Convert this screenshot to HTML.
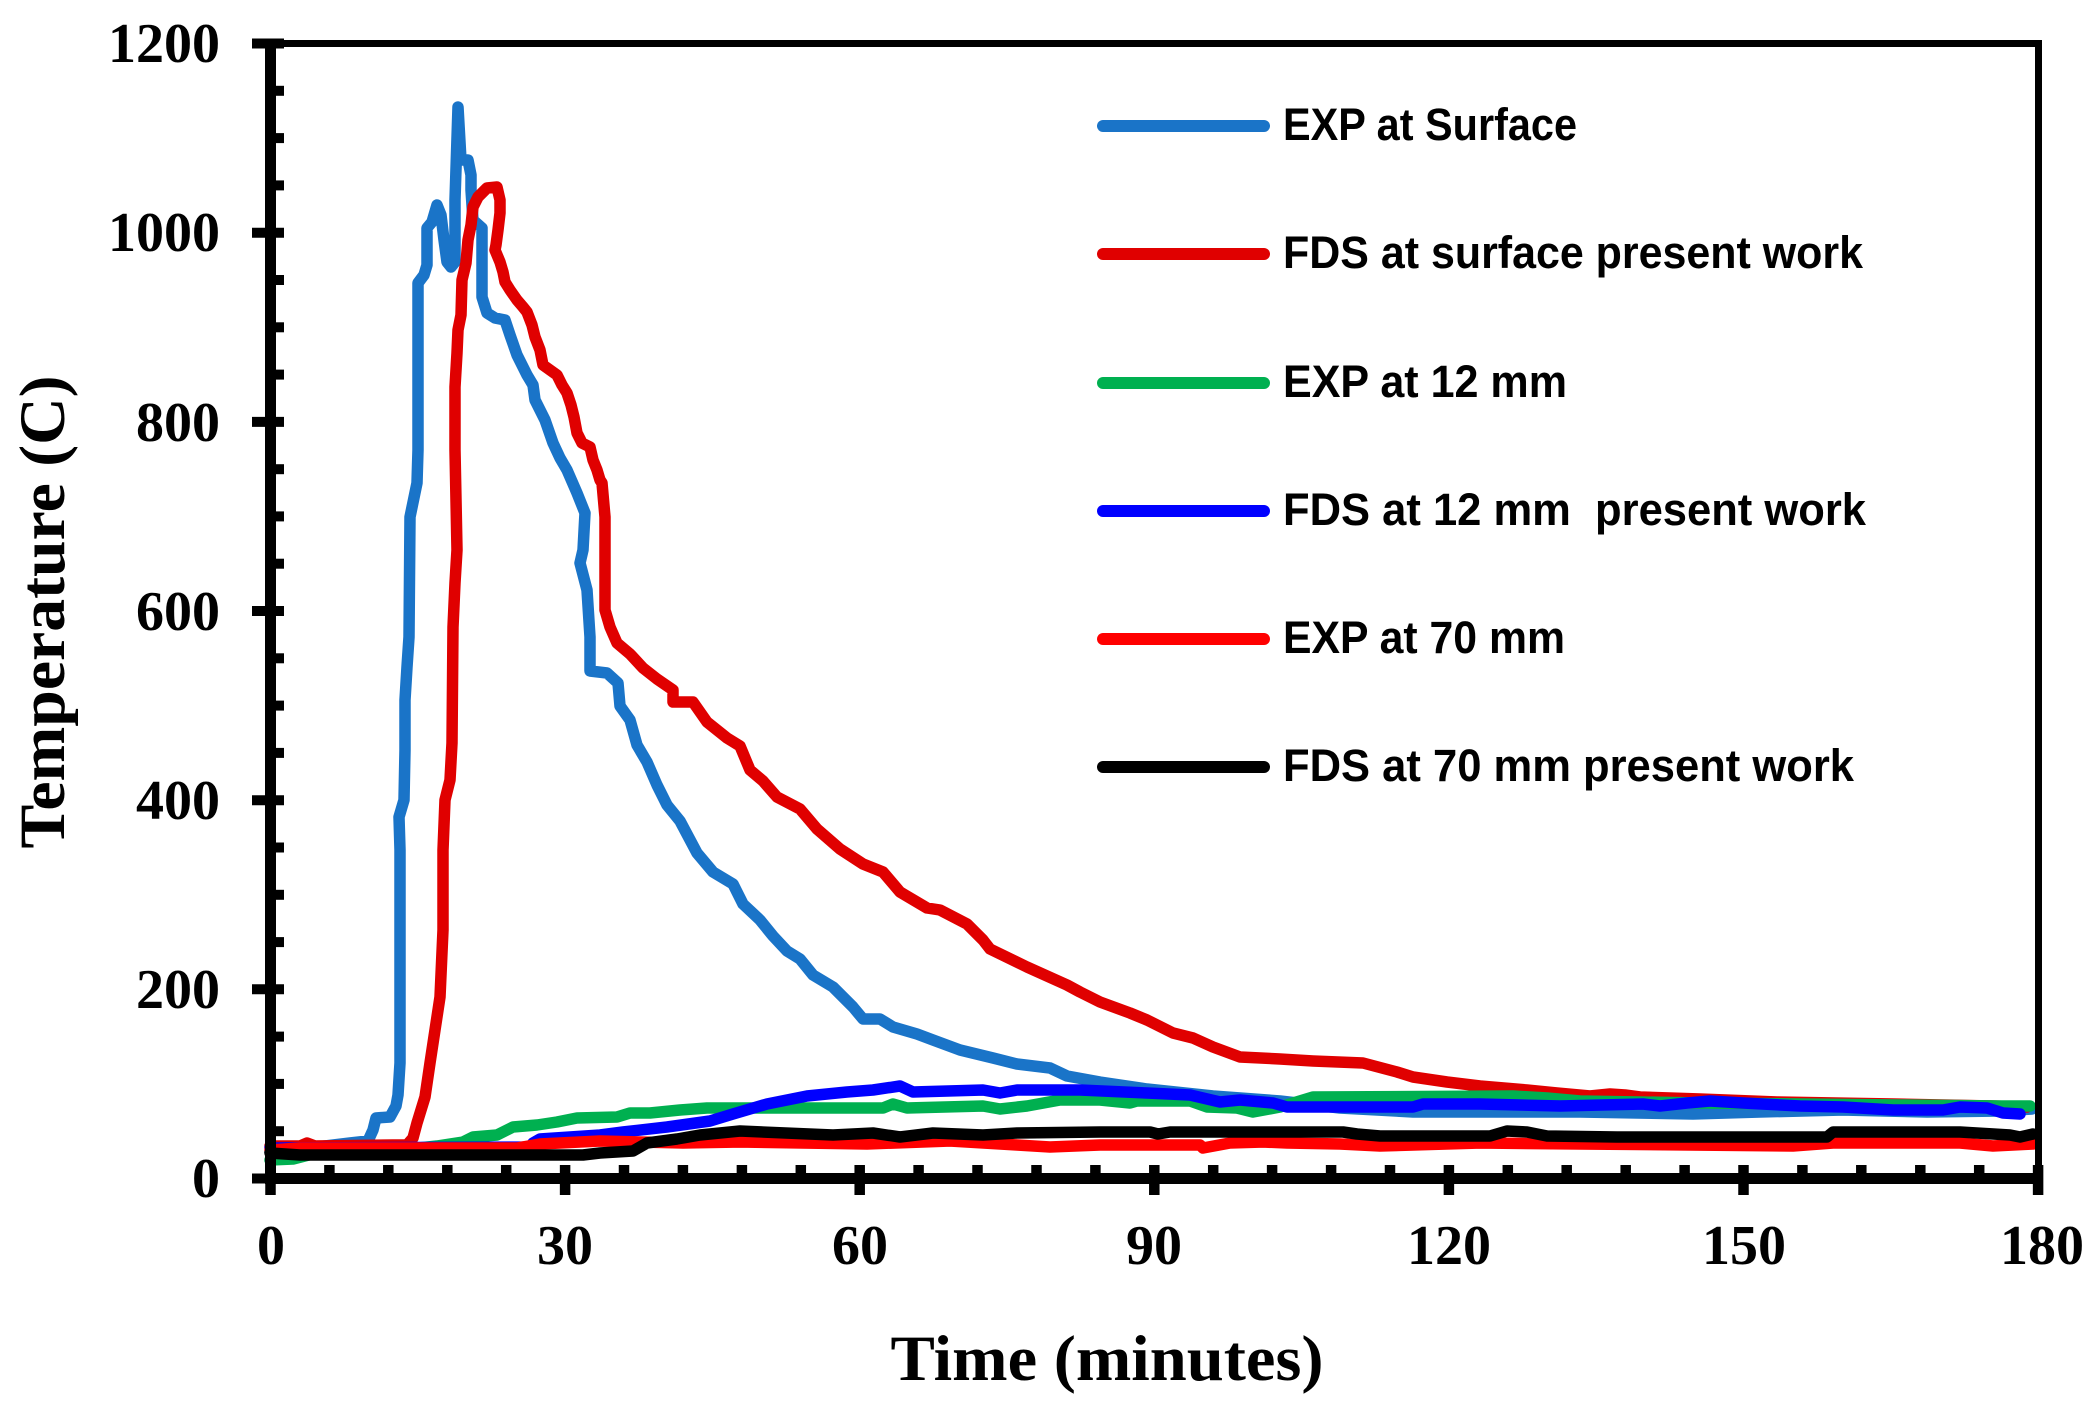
<!DOCTYPE html>
<html>
<head>
<meta charset="utf-8">
<style>
  html, body { margin: 0; padding: 0; background: #ffffff; }
  svg { display: block; }
  .tick { font-family: "Liberation Serif", "Times New Roman", serif; font-weight: bold; font-size: 56px; fill: #000; }
  .title { font-family: "Liberation Serif", "Times New Roman", serif; font-weight: bold; font-size: 65px; fill: #000; }
  .leg { font-family: "Liberation Sans", Arial, sans-serif; font-weight: bold; font-size: 45px; fill: #000; white-space: pre; }
  .s { fill: none; stroke-width: 11.5; stroke-linejoin: round; stroke-linecap: round; }
</style>
</head>
<body>
<svg width="2090" height="1405" viewBox="0 0 2090 1405" xmlns="http://www.w3.org/2000/svg">
  <rect x="0" y="0" width="2090" height="1405" fill="#ffffff"/>

  <!-- Series -->
  <!-- EXP at Surface -->
  <polyline class="s" stroke="#1a74c8" points="270,1152 283,1150 317,1147 350,1143 368,1141 373,1130 376,1118 390,1117 396,1106 398,1095 400,1063 400,850 399,817 404,800 405,750 405,700 407,667 409,637 410,517 417,483 418,450 418,283 424,275 427,265 427,228 432,222 437,205 441,215 444,240 447,262 451,267 455,262 455,200 458,107 461,160 468,160 471,175 471,190 473,220 482,228 482,297 487,313 495,318 505,320 510,335 517,355 527,375 533,385 535,400 545,420 553,443 560,458 567,470 577,493 585,513 583,550 580,563 587,590 590,637 590,671 607,673 618,683 620,706 630,720 637,745 647,762 657,785 667,805 680,821 697,853 713,872 733,884 743,904 760,920 773,936 787,951 800,959 813,975 833,987 853,1007 863,1019 880,1019 893,1027 917,1034 933,1040 960,1050 993,1058 1017,1064 1050,1068 1067,1076 1100,1082 1147,1089 1213,1096 1280,1101 1340,1108 1413,1112 1500,1112 1580,1112 1693,1114 1760,1112 1843,1110 1927,1112 2000,1111 2032,1109"/>
  <!-- FDS at surface -->
  <polyline class="s" stroke="#e00000" points="270,1146 300,1146 307,1143 315,1146 393,1145 407,1145 413,1138 417,1123 425,1097 430,1063 435,1030 440,997 443,930 443,850 445,800 450,780 452,743 453,627 455,583 457,550 455,450 455,387 457,353 458,330 461,315 462,280 466,263 468,240 471,225 473,207 478,197 487,188 497,187 500,200 500,213 498,230 496,245 495,250 500,262 503,272 505,282 510,290 517,300 523,307 527,312 532,325 535,337 540,350 543,365 550,370 557,375 562,385 567,393 571,405 574,417 577,433 582,443 590,447 593,460 597,470 600,480 602,483 605,517 605,610 610,627 617,643 630,654 643,668 657,679 673,690 673,702 693,702 707,722 727,738 740,746 750,770 763,781 777,797 800,809 817,829 840,849 863,864 883,872 900,892 927,908 940,910 967,924 983,940 990,949 1027,967 1067,985 1080,992 1100,1002 1130,1013 1147,1020 1173,1033 1193,1038 1213,1047 1240,1057 1280,1059 1313,1061 1363,1063 1397,1072 1413,1077 1447,1082 1480,1086 1527,1090 1557,1093 1590,1096 1610,1094 1625,1095 1640,1097 1700,1099 1777,1102 1893,1104 1993,1106 2027,1107"/>
  <!-- EXP at 12 mm -->
  <polyline class="s" stroke="#00b050" points="270,1160 293,1159 320,1152 400,1150 437,1146 463,1142 473,1137 497,1135 513,1127 537,1125 557,1122 577,1118 617,1117 630,1113 650,1113 680,1110 707,1108 883,1108 893,1104 907,1108 983,1106 1000,1109 1027,1106 1060,1100 1100,1100 1130,1103 1137,1101 1190,1101 1207,1107 1237,1108 1253,1112 1280,1107 1313,1097 1513,1096 1547,1098 1580,1101 1700,1103 1800,1104 1900,1105 2000,1106 2030,1106"/>
  <!-- FDS at 12 mm -->
  <polyline class="s" stroke="#0000ff" points="270,1148 530,1147 533,1143 540,1139 600,1135 623,1132 667,1127 710,1121 733,1114 767,1104 807,1096 847,1092 873,1090 900,1086 913,1092 983,1090 1000,1093 1017,1090 1080,1090 1147,1093 1190,1095 1220,1102 1240,1100 1273,1103 1287,1107 1413,1107 1423,1104 1480,1104 1560,1106 1643,1104 1660,1106 1687,1103 1710,1101 1743,1103 1800,1106 1843,1107 1893,1110 1943,1110 1960,1107 1987,1108 2003,1113 2020,1114"/>
  <!-- EXP at 70 mm -->
  <polyline class="s" stroke="#ff0000" points="270,1150 300,1148 517,1148 540,1144 600,1141 683,1143 740,1142 867,1144 950,1141 1017,1145 1050,1147 1100,1145 1200,1145 1203,1148 1230,1143 1263,1142 1287,1143 1340,1144 1380,1146 1480,1143 1580,1144 1793,1146 1833,1143 1960,1143 1993,1146 2033,1144"/>
  <!-- FDS at 70 mm -->
  <polyline class="s" stroke="#000000" points="270,1153 300,1155 583,1155 600,1153 633,1151 647,1143 677,1139 700,1135 740,1131 833,1135 873,1133 900,1137 933,1133 983,1135 1017,1133 1100,1132 1150,1132 1158,1134 1170,1132 1343,1132 1357,1134 1380,1136 1490,1136 1507,1131 1527,1132 1547,1136 1617,1137 1827,1137 1833,1132 1960,1132 2010,1135 2020,1137 2033,1134"/>

  <!-- Axes frame -->
  <line x1="265" y1="43.5" x2="2042" y2="43.5" stroke="#000" stroke-width="7"/>
  <line x1="2038.5" y1="40" x2="2038.5" y2="1184" stroke="#000" stroke-width="7"/>
  <line x1="270.5" y1="40" x2="270.5" y2="1184" stroke="#000" stroke-width="11"/>
  <line x1="265" y1="1178.5" x2="2042" y2="1178.5" stroke="#000" stroke-width="11"/>

  <!-- Y ticks -->
  <g stroke="#000" stroke-width="10">
    <line x1="252" y1="1178.5" x2="284" y2="1178.5"/>
    <line x1="252" y1="989.3" x2="284" y2="989.3"/>
    <line x1="252" y1="800.2" x2="284" y2="800.2"/>
    <line x1="252" y1="611.0" x2="284" y2="611.0"/>
    <line x1="252" y1="421.9" x2="284" y2="421.9"/>
    <line x1="252" y1="232.7" x2="284" y2="232.7"/>
    <line x1="252" y1="43.5" x2="284" y2="43.5"/>
    <line x1="270" y1="1131.2" x2="284" y2="1131.2"/>
    <line x1="270" y1="1083.9" x2="284" y2="1083.9"/>
    <line x1="270" y1="1036.6" x2="284" y2="1036.6"/>
    <line x1="270" y1="942.1" x2="284" y2="942.1"/>
    <line x1="270" y1="894.8" x2="284" y2="894.8"/>
    <line x1="270" y1="847.5" x2="284" y2="847.5"/>
    <line x1="270" y1="752.9" x2="284" y2="752.9"/>
    <line x1="270" y1="705.6" x2="284" y2="705.6"/>
    <line x1="270" y1="658.3" x2="284" y2="658.3"/>
    <line x1="270" y1="563.7" x2="284" y2="563.7"/>
    <line x1="270" y1="516.4" x2="284" y2="516.4"/>
    <line x1="270" y1="469.2" x2="284" y2="469.2"/>
    <line x1="270" y1="374.6" x2="284" y2="374.6"/>
    <line x1="270" y1="327.3" x2="284" y2="327.3"/>
    <line x1="270" y1="280.0" x2="284" y2="280.0"/>
    <line x1="270" y1="185.4" x2="284" y2="185.4"/>
    <line x1="270" y1="138.1" x2="284" y2="138.1"/>
    <line x1="270" y1="90.8" x2="284" y2="90.8"/>
  </g>

  <!-- X ticks -->
  <g stroke="#000" stroke-width="10.5">
    <line x1="270.5" y1="1165" x2="270.5" y2="1195"/>
    <line x1="565.1" y1="1165" x2="565.1" y2="1195"/>
    <line x1="859.7" y1="1165" x2="859.7" y2="1195"/>
    <line x1="1154.3" y1="1165" x2="1154.3" y2="1195"/>
    <line x1="1448.9" y1="1165" x2="1448.9" y2="1195"/>
    <line x1="1743.5" y1="1165" x2="1743.5" y2="1195"/>
    <line x1="2038.1" y1="1165" x2="2038.1" y2="1195"/>
    <line x1="329.4" y1="1165" x2="329.4" y2="1178"/>
    <line x1="388.3" y1="1165" x2="388.3" y2="1178"/>
    <line x1="447.3" y1="1165" x2="447.3" y2="1178"/>
    <line x1="506.2" y1="1165" x2="506.2" y2="1178"/>
    <line x1="624.0" y1="1165" x2="624.0" y2="1178"/>
    <line x1="682.9" y1="1165" x2="682.9" y2="1178"/>
    <line x1="741.9" y1="1165" x2="741.9" y2="1178"/>
    <line x1="800.8" y1="1165" x2="800.8" y2="1178"/>
    <line x1="918.6" y1="1165" x2="918.6" y2="1178"/>
    <line x1="977.5" y1="1165" x2="977.5" y2="1178"/>
    <line x1="1036.5" y1="1165" x2="1036.5" y2="1178"/>
    <line x1="1095.4" y1="1165" x2="1095.4" y2="1178"/>
    <line x1="1213.2" y1="1165" x2="1213.2" y2="1178"/>
    <line x1="1272.1" y1="1165" x2="1272.1" y2="1178"/>
    <line x1="1331.1" y1="1165" x2="1331.1" y2="1178"/>
    <line x1="1390.0" y1="1165" x2="1390.0" y2="1178"/>
    <line x1="1507.8" y1="1165" x2="1507.8" y2="1178"/>
    <line x1="1566.7" y1="1165" x2="1566.7" y2="1178"/>
    <line x1="1625.7" y1="1165" x2="1625.7" y2="1178"/>
    <line x1="1684.6" y1="1165" x2="1684.6" y2="1178"/>
    <line x1="1802.4" y1="1165" x2="1802.4" y2="1178"/>
    <line x1="1861.3" y1="1165" x2="1861.3" y2="1178"/>
    <line x1="1920.3" y1="1165" x2="1920.3" y2="1178"/>
    <line x1="1979.2" y1="1165" x2="1979.2" y2="1178"/>
  </g>

  <!-- Y tick labels -->
  <g class="tick" text-anchor="end">
    <text x="220" y="1197">0</text>
    <text x="220" y="1008">200</text>
    <text x="220" y="819">400</text>
    <text x="220" y="630">600</text>
    <text x="220" y="441">800</text>
    <text x="220" y="251">1000</text>
    <text x="220" y="62">1200</text>
  </g>

  <!-- X tick labels -->
  <g class="tick" text-anchor="middle">
    <text x="271" y="1264">0</text>
    <text x="565" y="1264">30</text>
    <text x="860" y="1264">60</text>
    <text x="1154" y="1264">90</text>
    <text x="1449" y="1264">120</text>
    <text x="1744" y="1264">150</text>
    <text x="2042" y="1264">180</text>
  </g>

  <!-- Axis titles -->
  <text class="title" x="1107" y="1380" text-anchor="middle" textLength="433" lengthAdjust="spacingAndGlyphs">Time (minutes)</text>
  <text class="title" x="0" y="0" text-anchor="middle" transform="translate(64,612) rotate(-90)" textLength="473" lengthAdjust="spacingAndGlyphs">Temperature (C)</text>

  <!-- Legend -->
  <g stroke-width="12" stroke-linecap="round">
    <line x1="1103" y1="126" x2="1264" y2="126" stroke="#1a74c8"/>
    <line x1="1103" y1="254" x2="1264" y2="254" stroke="#e00000"/>
    <line x1="1103" y1="383" x2="1264" y2="383" stroke="#00b050"/>
    <line x1="1103" y1="511" x2="1264" y2="511" stroke="#0000ff"/>
    <line x1="1103" y1="639" x2="1264" y2="639" stroke="#ff0000"/>
    <line x1="1103" y1="767" x2="1264" y2="767" stroke="#000000"/>
  </g>
  <text class="leg" x="1283" y="140" textLength="294" lengthAdjust="spacingAndGlyphs">EXP at Surface</text>
  <text class="leg" x="1283" y="268" textLength="580" lengthAdjust="spacingAndGlyphs">FDS at surface present work</text>
  <text class="leg" x="1283" y="397" textLength="284" lengthAdjust="spacingAndGlyphs">EXP at 12 mm</text>
  <text class="leg" x="1283" y="525" textLength="583" lengthAdjust="spacingAndGlyphs">FDS at 12 mm  present work</text>
  <text class="leg" x="1283" y="653" textLength="282" lengthAdjust="spacingAndGlyphs">EXP at 70 mm</text>
  <text class="leg" x="1283" y="781" textLength="571" lengthAdjust="spacingAndGlyphs">FDS at 70 mm present work</text>
</svg>
</body>
</html>
